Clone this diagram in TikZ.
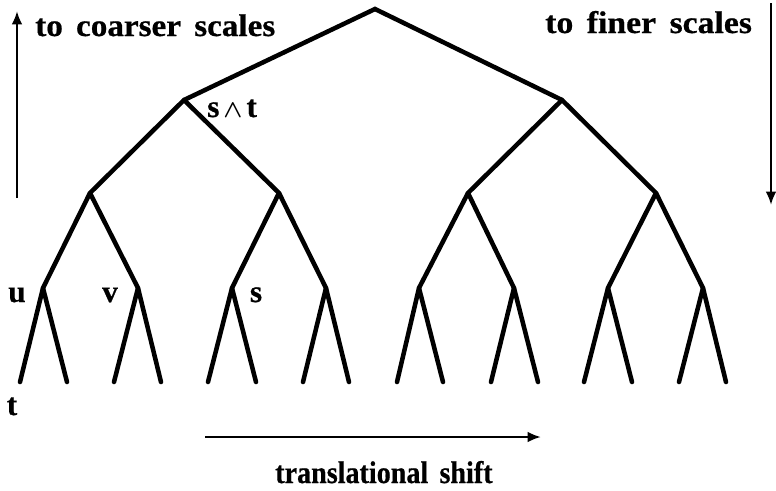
\documentclass[tikz,border=0pt]{standalone}
\usepackage{graphicx}
\usepackage{fontspec}
\setmainfont{Liberation Serif}[BoldFeatures={FakeBold=0.6}]
\usetikzlibrary{arrows.meta}
\begin{document}
\begin{tikzpicture}[x=0.75pt,y=-0.75pt,
  branch/.style={line width=3.4pt, line cap=round, line join=round},
  axis/.style={line width=1.8pt, -{Latex[length=10pt,width=8pt]}},
  lbl/.style={inner sep=0pt, font=\fontsize{23.5}{28}\selectfont\bfseries}]
\useasboundingbox (0,0) rectangle (776,490);
% tree vertices
\coordinate (r) at (375,9);
\coordinate (a) at (184,100);
\coordinate (b) at (562,100);
\coordinate (aa) at (90,193);
\coordinate (ab) at (279,193);
\coordinate (ba) at (468,193);
\coordinate (bb) at (656,193);
\coordinate (n1) at (43,288);
\coordinate (n2) at (138,288);
\coordinate (n3) at (232,288);
\coordinate (n4) at (326,288);
\coordinate (n5) at (419,288);
\coordinate (n6) at (514,288);
\coordinate (n7) at (608,288);
\coordinate (n8) at (703,288);
\foreach \i/\l/\rr in {1/20/67, 2/114/161, 3/208/256, 4/303/349, 5/397/443, 6/491/538, 7/584/632, 8/679/726}{
  \coordinate (l\i a) at (\l,382);
  \coordinate (l\i b) at (\rr,382);
}
% branches
\draw[branch, line join=miter] (a) -- (r) -- (b);
\draw[branch] (aa) -- (a) -- (ab);
\draw[branch] (ba) -- (b) -- (bb);
\draw[branch] (n1) -- (aa) -- (n2);
\draw[branch] (n3) -- (ab) -- (n4);
\draw[branch] (n5) -- (ba) -- (n6);
\draw[branch] (n7) -- (bb) -- (n8);
\foreach \i in {1,...,8}{
  \draw[branch] (l\i a) -- (n\i) -- (l\i b);
}
% axes
\coordinate (cs1) at (17,198);
\coordinate (cs2) at (17,11);
\coordinate (fs1) at (771,3);
\coordinate (fs2) at (771,205);
\coordinate (ts1) at (205,437);
\coordinate (ts2) at (541,437);
\draw[axis] (cs1) -- (cs2);
\draw[axis] (fs1) -- (fs2);
\draw[axis] (ts1) -- (ts2);
% labels
\node[lbl, anchor=base west] (coarse) at (35,36) {\resizebox{180pt}{\height}{to\hspace{0.4em}coarser\hspace{0.4em}scales}};
\node[lbl, anchor=base west] (fine) at (545,33) {\resizebox{155pt}{\height}{to\hspace{0.4em}finer\hspace{0.4em}scales}};
\node[lbl, anchor=base west] (shift) at (275,483) {\resizebox{163pt}{\height}{translational\hspace{0.4em}shift}};
\node[lbl, anchor=base west] (st) at (207,117) {s\hspace{3pt}\scalebox{0.75}{\boldmath$\wedge$}\hspace{3pt}t};
\node[lbl, anchor=base] (u) at (17,302) {u};
\node[lbl, anchor=base] (v) at (110,302) {v};
\node[lbl, anchor=base] (s) at (256,302) {s};
\node[lbl, anchor=base] (t) at (12,415) {t};
\end{tikzpicture}
\end{document}
